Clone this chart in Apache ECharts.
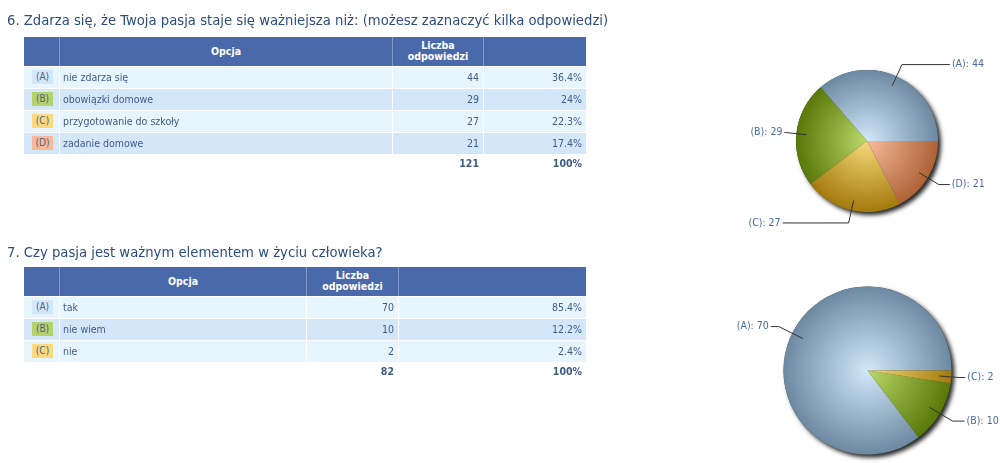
<!DOCTYPE html>
<html>
<head>
<meta charset="utf-8">
<script src="https://cdn.jsdelivr.net/npm/echarts@6/dist/echarts.min.js"></script>
<style>
  html, body { margin: 0; padding: 0; background: #fff; }
  #page { position: relative; width: 1000px; height: 463px; overflow: hidden;
          font-family: "DejaVu Sans Condensed", "DejaVu Sans", sans-serif; }
  #chart { position: absolute; left: 0; top: 0; width: 1000px; height: 463px; }
  .title { position: absolute; left: 7px; font-size: 14.7px; line-height: 18px; color: #2d4d80; white-space: nowrap; z-index: 2; }
  .cell { position: absolute; box-sizing: border-box; font-size: 10.5px; color: #3f5c88; white-space: nowrap; z-index: 2; }
  .hd { background: #4a69aa; color: #fff; font-weight: bold; text-align: center; }
  .badge { position: absolute; width: 21px; height: 14px; line-height: 14px; text-align: center; font-size: 10px; color: #4d6284; }
</style>
</head>
<body>
<div id="page">
  <div id="chart"></div>
</div>
<script>
// pytanie 6
var q6Title = '6. Zdarza się, że Twoja pasja staje się ważniejsza niż: (możesz zaznaczyć kilka odpowiedzi)';
var q6Keys = ['(A)', '(B)', '(C)', '(D)'];
var q6Options = ['nie zdarza się', 'obowiązki domowe', 'przygotowanie do szkoły', 'zadanie domowe'];
var q6Counts = [44, 29, 27, 21];
var q6Percents = ['36.4%', '24%', '22.3%', '17.4%'];
var q6Total = 121;

// pytanie 7
var q7Title = '7. Czy pasja jest ważnym elementem w życiu człowieka?';
var q7Keys = ['(A)', '(B)', '(C)'];
var q7Options = ['tak', 'nie wiem', 'nie'];
var q7Counts = [70, 10, 2];
var q7Percents = ['85.4%', '12.2%', '2.4%'];
var q7Total = 82;

var totalPercent = '100%';
var headOption = 'Opcja';
var headCount = 'Liczba<br>odpowiedzi';

var badgeColors = ['#d2e7f8', '#b6d26a', '#fcd97e', '#f8b999'];
var rowColors = ['#e7f5fe', '#d4e7f9'];
// [srodek, brzeg] gradientu
var sliceColors = [
  ['#d2e8fa', '#6d89a2'],
  ['#bcd86c', '#587808'],
  ['#f6da7a', '#a47a0c'],
  ['#f7bc9c', '#ae6236']
];

var page = document.getElementById('page');

function div(cls, x, y, w, h, html, extra) {
  var d = document.createElement('div');
  d.className = cls;
  d.style.left = x + 'px';
  d.style.top = y + 'px';
  d.style.width = w + 'px';
  d.style.height = h + 'px';
  if (html != null) d.innerHTML = html;
  if (extra) for (var k in extra) d.style[k] = extra[k];
  page.appendChild(d);
  return d;
}

function buildTable(title, titleY, top, cols, keys, options, counts, percents, total) {
  var t = document.createElement('div');
  t.className = 'title';
  t.style.top = titleY + 'px';
  t.textContent = title;
  page.appendChild(t);

  var hh = 29, rh = 22;
  // naglowek
  for (var j = 0; j < 4; j++) {
    var x = cols[j], w = cols[j + 1] - cols[j];
    var extra = { borderLeft: j > 0 ? '1px solid #8199c8' : 'none' };
    var html = j == 1 ? headOption : (j == 2 ? headCount : '');
    extra.lineHeight = j == 2 ? '11px' : hh + 'px';
    extra.paddingTop = j == 2 ? '3px' : '0';
    div('cell hd', x, top, w, hh, html, extra);
  }
  // wiersze
  for (var i = 0; i < keys.length; i++) {
    var y = top + hh + i * rh;
    for (var j = 0; j < 4; j++) {
      var x = cols[j] + (j > 0 ? 1 : 0), w = cols[j + 1] - cols[j] - (j > 0 ? 1 : 0);
      var html = '';
      var extra = { background: rowColors[i % 2], lineHeight: (rh - 1) + 'px' };
      if (j == 1) { html = options[i]; extra.paddingLeft = '3px'; }
      if (j == 2) { html = counts[i]; extra.textAlign = 'right'; extra.paddingRight = '4px'; }
      if (j == 3) { html = percents[i]; extra.textAlign = 'right'; extra.paddingRight = '4px'; }
      var c = div('cell', x, y + 1, w, rh - 1, html, extra);
      if (j == 0) {
        var b = document.createElement('div');
        b.className = 'badge';
        b.style.left = '8px';
        b.style.top = '3px';
        b.style.background = badgeColors[i];
        b.textContent = keys[i];
        c.appendChild(b);
      }
    }
  }
  // suma
  var ty = top + hh + keys.length * rh - 1;
  div('cell', cols[2], ty, cols[3] - cols[2], 20, total,
      { textAlign: 'right', paddingRight: '4px', fontWeight: 'bold', lineHeight: '20px' });
  div('cell', cols[3], ty, cols[4] - cols[3], 20, totalPercent,
      { textAlign: 'right', paddingRight: '4px', fontWeight: 'bold', lineHeight: '20px' });
}

buildTable(q6Title, 11, 37, [24, 59, 392, 483, 586], q6Keys, q6Options, q6Counts, q6Percents, q6Total);
buildTable(q7Title, 243, 267, [24, 59, 306, 398, 586], q7Keys, q7Options, q7Counts, q7Percents, q7Total);

// wykresy kolowe
function pieSeries(cx, cy, r, rLabel, keys, counts, lines) {
  var slices = counts.map(function (v, i) {
    return {
      value: v, name: keys[i],
      itemStyle: {
        color: new echarts.graphic.RadialGradient(cx, cy, r, [
          { offset: 0, color: sliceColors[i][0] },
          { offset: 1, color: sliceColors[i][1] }
        ], true)
      }
    };
  });
  var tags = counts.map(function (v, i) {
    return { value: v, name: keys[i], labelLine: { length: lines[i][0], length2: lines[i][1] } };
  });
  var common = {
    type: 'pie', center: [cx, cy], startAngle: 0, clockwise: false,
    silent: true, animation: false, avoidLabelOverlap: false, emphasis: { disabled: true }
  };
  return [
    Object.assign({}, common, {
      radius: r, z: 1,
      label: { show: false }, labelLine: { show: false },
      itemStyle: { color: '#444', shadowBlur: 4, shadowOffsetX: 3, shadowOffsetY: 3, shadowColor: 'rgba(0,0,0,0.85)' },
      data: [{ value: 1 }]
    }),
    Object.assign({}, common, {
      radius: r, z: 2,
      label: { show: false }, labelLine: { show: false },
      data: slices
    }),
    Object.assign({}, common, {
      radius: rLabel, z: 3,
      itemStyle: { color: 'rgba(0,0,0,0)' },
      label: {
        show: true, position: 'outside', alignTo: 'none', distanceToLabelLine: 2,
        formatter: '{b}: {c}', color: '#4a6ba0', fontSize: 10.5,
        fontFamily: '"DejaVu Sans Condensed", "DejaVu Sans", sans-serif'
      },
      labelLine: { show: true, lineStyle: { color: '#333', width: 1 } },
      data: tags
    })
  ];
}

var chart = echarts.init(document.getElementById('chart'));
var option = {
  animation: false,
  series: [].concat(
    pieSeries(867, 141, 71, 61, q6Keys, q6Counts, [[23, 48], [20, 2], [23, 66], [23, 11]]),
    pieSeries(867.5, 370.5, 84, 72, q7Keys, q7Counts, [[27, 8], [27, 12], [20, 6]])
  )
};
chart.setOption(option);
</script>
</body>
</html>
